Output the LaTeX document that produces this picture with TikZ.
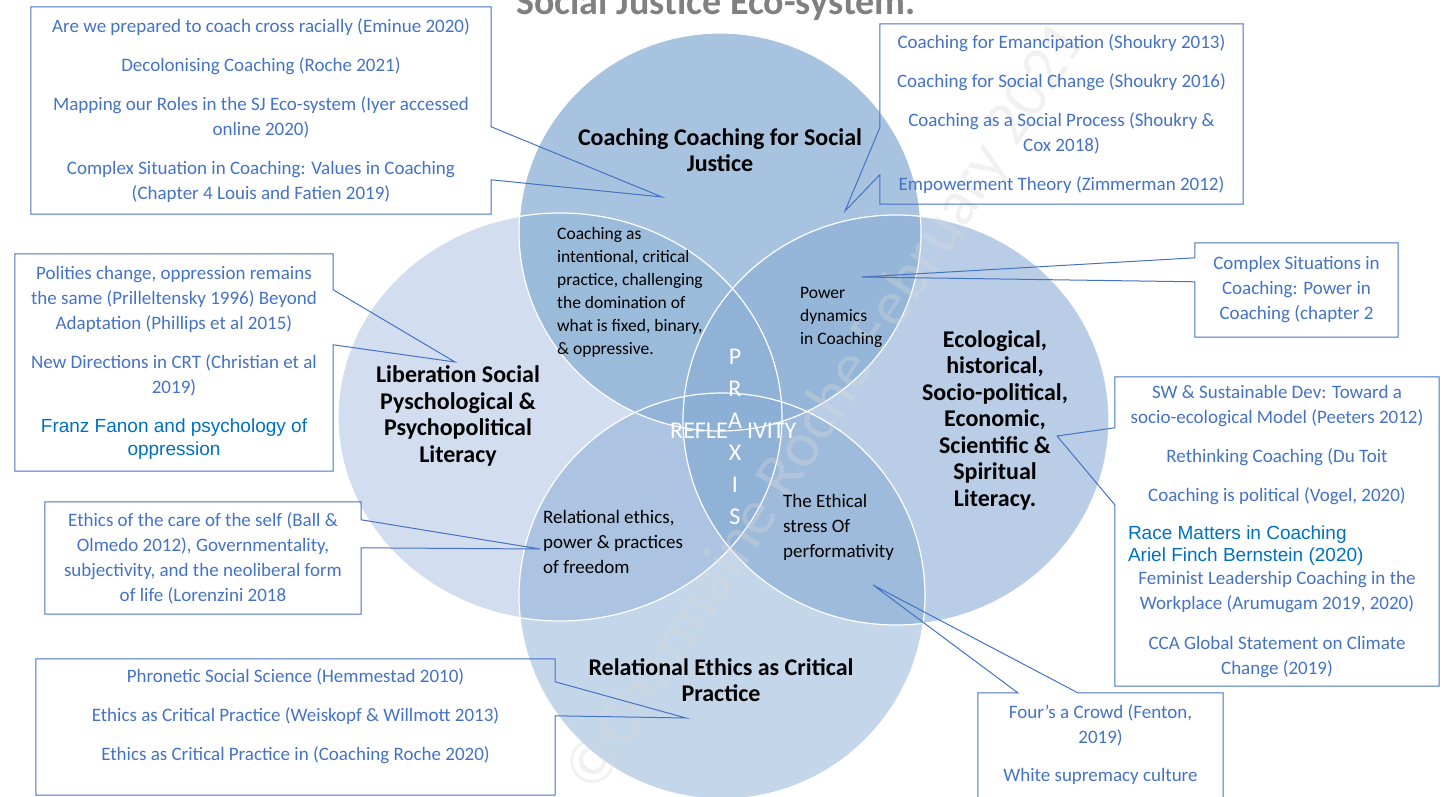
\documentclass[tikz,border=0pt]{standalone}
\usepackage{fontspec}
\setmainfont{Carlito}
\newfontfamily\arialfont{Liberation Sans}
\usetikzlibrary{positioning,calc}
\definecolor{libfill}{RGB}{165,189,223}
\definecolor{ecofill}{RGB}{115,157,205}
\definecolor{relfill}{RGB}{127,166,209}
\definecolor{sjfill}{RGB}{138,175,212}
\definecolor{refblue}{RGB}{68,114,196}
\definecolor{linkblue}{RGB}{0,112,192}
\definecolor{titlegrey}{RGB}{128,128,128}
\definecolor{markgrey}{RGB}{215,215,215}
\newcommand{\arialblue}[1]{{\arialfont\fontsize{19}{22}\selectfont\color{linkblue}#1}}

\begin{document}
\begin{tikzpicture}[x=1pt, y=-1pt,
  ring/.style={draw=white, line width=1.2pt},
  topic/.style={font=\fontsize{24}{26.5}\selectfont\bfseries, align=center, inner sep=0pt},
  lens/.style={font=\fontsize{17.5}{23}\selectfont, align=left, anchor=west, inner sep=0pt},
  lenslow/.style={lens, font=\fontsize{19}{25}\selectfont},
  praxis/.style={font=\fontsize{24}{24}\selectfont, text=white, inner sep=0pt},
  refs/.style={font=\fontsize{19}{25}\selectfont, align=center, text=refblue, inner sep=0pt},
  refline/.style={draw=refblue, line width=1pt, line join=miter},
]
\useasboundingbox (0,0) rectangle (1443,797);
\clip (0,0) rectangle (1443,797);

\fill[libfill, fill opacity=0.5] (560,417) ellipse [x radius=222, y radius=204];
\fill[ecofill, fill opacity=0.5] (896,420) ellipse [x radius=213, y radius=205];
\fill[relfill, fill opacity=0.46] (722,596) ellipse [x radius=203, y radius=203];
\fill[sjfill, fill opacity=0.75] (720,232) ellipse [x radius=201, y radius=199];
\draw[ring] (560,417) ellipse [x radius=222, y radius=204];
\draw[ring] (896,420) ellipse [x radius=213, y radius=205];
\draw[ring] (722,596) ellipse [x radius=203, y radius=203];
\draw[ring] (720,232) ellipse [x radius=201, y radius=199];

\node[rotate=57, font=\fontsize{64}{64}\selectfont, text=markgrey, opacity=0.35] (mark) at (828,408) {©Charmaine Roche February 2021};

\node[font=\fontsize{38}{38}\selectfont\bfseries, text=titlegrey, anchor=base] (title) at (716,15) {Social Justice Eco-system.};

\node[topic] (sj) at (720,150) {Coaching Coaching for Social\\ Justice};
\node[topic] (lib) at (458,416) {Liberation Social\\ Pyschological \&\\ Psychopolitical\\ Literacy};
\node[topic] (eco) at (995,420) {Ecological,\\ historical,\\ Socio-political,\\ Economic,\\ Scientific \&\\ Spiritual\\ Literacy.};
\node[topic] (rel) at (721,680) {Relational Ethics as Critical\\ Practice};

\node[lens] (intent) at (557,292) {Coaching as\\ intentional, critical\\ practice, challenging\\ the domination of\\ what is fixed, binary,\\ \& oppressive.};
\node[lens] (power) at (800,317) {Power\\ dynamics\\ in Coaching};
\node[lenslow] (freedom) at (543,542) {Relational ethics,\\ power \& practices\\ of freedom};
\node[lenslow] (stress) at (783,527) {The Ethical\\ stress Of\\ performativity};

\foreach \ch [count=\i] in {P,R,A,X,I,S}
  \node[praxis] (px\i) at (735,{357+32*(\i-1)}) {\ch};
\node[praxis, anchor=base east] (refle) at (728,438) {REFLE};
\node[praxis, anchor=base west] (ivity) at (747,438) {IVITY};

\node[refs, minimum width=460pt, minimum height=207pt] (sjref) at (261,110.5) {Are we prepared to coach cross racially (Eminue 2020)\\[14pt] Decolonising Coaching (Roche 2021)\\[14pt] Mapping our Roles in the SJ Eco-system (Iyer accessed\\ online 2020)\\[14pt] Complex Situation in Coaching: Values in Coaching\\ (Chapter 4 Louis and Fatien 2019)};
\coordinate (sjtip) at (662,197);
\draw[refline] (sjref.north west) -- (sjref.north east) -- ($(sjref.north east)+(0,120)$) -- (sjtip) -- ($(sjref.north east)+(0,173)$) -- (sjref.south east) -- (sjref.south west) -- cycle;

\node[refs, minimum width=363pt, minimum height=180pt] (empref) at (1061.5,114) {Coaching for Emancipation (Shoukry 2013)\\[14pt] Coaching for Social Change (Shoukry 2016)\\[14pt] Coaching as a Social Process (Shoukry \&\\ Cox 2018)\\[14pt] Empowerment Theory (Zimmerman 2012)};
\coordinate (emptip) at (845,211);
\draw[refline] (empref.north west) -- (empref.north east) -- (empref.south east) -- (empref.south west) -- ($(empref.north west)+(0,151)$) -- (emptip) -- ($(empref.north west)+(0,104)$) -- cycle;

\node[refs, minimum width=203pt, minimum height=94pt] (powref) at (1296.5,290) {Complex Situations in\\ Coaching: Power in\\ Coaching (chapter 2};
\coordinate (powtip) at (862,277);
\draw[refline] (powref.north west) -- (powref.north east) -- (powref.south east) -- (powref.south west) -- ($(powref.north west)+(0,39)$) -- (powtip) -- ($(powref.north west)+(0,15)$) -- cycle;

\node[refs, minimum width=318pt, minimum height=217pt] (libref) at (174,362.5) {Polities change, oppression remains\\ the same (Prilleltensky 1996) Beyond\\ Adaptation (Phillips et al 2015)\\[14pt] New Directions in CRT (Christian et al\\ 2019)\\[14pt] \arialblue{Franz Fanon and psychology of}\\[-2pt] \arialblue{oppression}};
\coordinate (libtip) at (455,362);
\draw[refline] (libref.north west) -- (libref.north east) -- ($(libref.north east)+(0,36)$) -- (libtip) -- ($(libref.north east)+(0,91)$) -- (libref.south east) -- (libref.south west) -- cycle;

\node[refs, minimum width=316pt, minimum height=112pt] (careref) at (203,558) {Ethics of the care of the self (Ball \&\\ Olmedo 2012), Governmentality,\\ subjectivity, and the neoliberal form\\ of life (Lorenzini 2018};
\coordinate (caretip) at (540,549);
\draw[refline] (careref.north west) -- (careref.north east) -- ($(careref.north east)+(0,18)$) -- (caretip) -- ($(careref.north east)+(0,46)$) -- (careref.south east) -- (careref.south west) -- cycle;

\node[refs, minimum width=519pt, minimum height=114pt] (phronref) at (295.5,716) {Phronetic Social Science (Hemmestad 2010)\\[14pt] Ethics as Critical Practice (Weiskopf \& Willmott 2013)\\[14pt] Ethics as Critical Practice in (Coaching Roche 2020)};
\coordinate (phrontip) at (686,718);
\draw[refline] (phronref.north west) -- (phronref.north east) -- ($(phronref.north east)+(0,23)$) -- (phrontip) -- ($(phronref.north east)+(0,57)$) -- ($(phronref.south east)+(0,22)$) -- ($(phronref.south west)+(0,22)$) -- cycle;

\node[refs, minimum width=324pt, minimum height=309pt] (ecoref) at (1277,531.5) {SW \& Sustainable Dev: Toward a\\ socio-ecological Model (Peeters 2012)\\[14pt] Rethinking Coaching (Du Toit\\[14pt] Coaching is political (Vogel, 2020)\\[13pt] \makebox[298pt][l]{\arialblue{\begin{tabular}[t]{@{}l@{}}Race Matters in Coaching\\ Ariel Finch Bernstein (2020)\end{tabular}}}\\[3pt] Feminist Leadership Coaching in the\\ Workplace (Arumugam 2019, 2020)\\[15pt] CCA Global Statement on Climate\\ Change (2019)};
\coordinate (ecotip) at (1057,436);
\draw[refline] (ecoref.north west) -- (ecoref.north east) -- (ecoref.south east) -- (ecoref.south west) -- ($(ecoref.north west)+(0,128)$) -- (ecotip) -- ($(ecoref.north west)+(0,51)$) -- cycle;

\node[refs, minimum width=245pt, minimum height=104pt] (crowdref) at (1100.5,745) {Four’s a Crowd (Fenton,\\ 2019)\\[13pt] White supremacy culture};
\coordinate (crowdtip) at (873,585);
\draw[refline] (crowdref.north west) -- ($(crowdref.north west)+(40,0)$) -- (crowdtip) -- ($(crowdref.north west)+(100,0)$) -- (crowdref.north east) -- ($(crowdref.south east)+(0,10)$) -- ($(crowdref.south west)+(0,10)$) -- cycle;
\end{tikzpicture}
\end{document}
